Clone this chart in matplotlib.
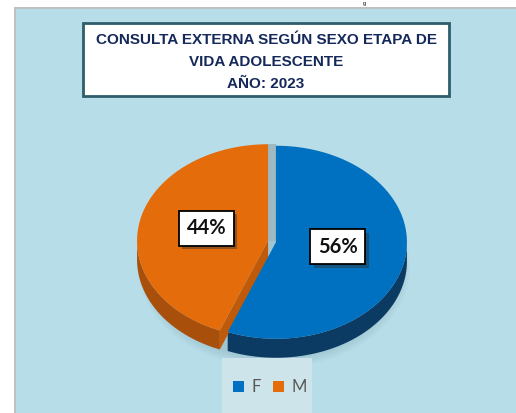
import numpy as np
import matplotlib.pyplot as plt
from matplotlib.patches import Polygon, Rectangle, Patch, Ellipse
import matplotlib.patheffects as pe

# data
labels = ["F", "M"]
values = [56, 44]
top_colors = ["#0070C0", "#E46C0A"]
wall_colors = ["#0B3A63", "#A84F0B"]
face_colors = ["#0A4A80", "#BF5A0A"]
title_lines = ["CONSULTA EXTERNA SEGÚN SEXO ETAPA DE", "VIDA ADOLESCENTE", "AÑO: 2023"]

W, H = 516, 413
fig = plt.figure(figsize=(W / 100, H / 100), dpi=100)
fig.patch.set_facecolor("white")
ax = fig.add_axes([0, 0, 1, 1])
ax.set_xlim(0, W)
ax.set_ylim(H, 0)
ax.axis("off")

# panel background with gray left/top border
ax.add_patch(Rectangle((14, 7), W, H, facecolor="#C0C0C0", edgecolor="none"))
ax.add_patch(Rectangle((16, 9), W, H, facecolor="#B7DDE8", edgecolor="none"))
ax.text(364, 0.5, "g", fontsize=4, color="black", ha="center", va="top",
        family="Liberation Sans")

# title box
ax.add_patch(Rectangle((83, 23), 366, 73, facecolor="white", edgecolor="#2E5D6B", linewidth=2))
for i, line in enumerate(title_lines):
    ax.text(266, 40.5 + i * 21.5, line, ha="center", va="center", fontsize=11,
            fontweight="bold", color="#14285A", family="Liberation Sans")

# 3d pie geometry (pixel space)
cx, cy = 272, 241.5
rx, ry = 131, 96.5
depth = 19
explode = 4

# soft shadow under pie
for k in range(6):
    ax.add_patch(Ellipse((cx + 2, cy + depth + 6), 2 * rx + 10 - 4 * k, 2 * ry + 10 - 4 * k,
                         facecolor="#5A7F8C", edgecolor="none", alpha=0.04))

# lighter legend area
ax.add_patch(Rectangle((222, 358), 90, 60, facecolor="#CDE4EA", edgecolor="none"))

fracs = np.array(values) / sum(values)
starts = 90 - 360 * np.cumsum(np.r_[0, fracs[:-1]])
ends = starts - 360 * fracs


def pt(t, ox, oy, dz=0):
    return ox + rx * np.cos(t), oy - ry * np.sin(t) + dz


slices = []
for i in range(len(values)):
    a0, a1 = np.radians(ends[i]), np.radians(starts[i])
    mid = (a0 + a1) / 2
    ox, oy = cx + explode * np.cos(mid), cy - explode * np.sin(mid)
    slices.append((a0, a1, mid, ox, oy))

# gap shadow between slices
ax.add_patch(Rectangle((cx - 4, cy - ry - 1), 8, ry, facecolor="#9DB9C2", edgecolor="none"))

# walls first
for i, (a0, a1, mid, ox, oy) in enumerate(slices):
    t = np.linspace(a0, a1, 400)
    vis = np.sin(t) <= 0
    if vis.any():
        tv = t[vis]
        xs, ys = pt(tv, ox, oy)
        xb, yb = pt(tv[::-1], ox, oy, depth)
        ax.add_patch(Polygon(np.c_[np.r_[xs, xb], np.r_[ys, yb]], closed=True,
                             facecolor=wall_colors[i], edgecolor="none"))
    for a, visible in ((a1, np.cos(a1) < 0), (a0, np.cos(a0) > 0)):
        if visible:
            ex, ey = pt(a, ox, oy)
            ax.add_patch(Polygon([(ox, oy), (ex, ey), (ex, ey + depth), (ox, oy + depth)],
                                 closed=True, facecolor=face_colors[i], edgecolor="none"))

# top faces
for i, (a0, a1, mid, ox, oy) in enumerate(slices):
    t = np.linspace(a0, a1, 400)
    xs, ys = pt(t, ox, oy)
    ax.add_patch(Polygon(np.c_[np.r_[ox, xs], np.r_[oy, ys]], closed=True,
                         facecolor=top_colors[i], edgecolor="none"))

# percentage labels
for i, (a0, a1, mid, ox, oy) in enumerate(slices):
    lx = cx + 0.51 * rx * np.cos(mid)
    ly = cy - 4 - 0.51 * ry * np.sin(mid)
    txt = ax.text(lx, ly, f"{values[i]}%", ha="center", va="center", fontsize=14.5,
                  fontweight="bold", color="#111111", family="Lato",
                  bbox=dict(boxstyle="square,pad=0.38", facecolor="white",
                            edgecolor="black", linewidth=1.3))
    txt.get_bbox_patch().set_path_effects([
        pe.SimplePatchShadow(offset=(2.5, -2.5), shadow_rgbFace="#333333", alpha=0.45),
        pe.Normal()])

# legend
handles = [Patch(facecolor=c, edgecolor="none", label=l) for c, l in zip(top_colors, labels)]
leg = ax.legend(handles=handles, loc="center", bbox_to_anchor=(270 / W, 1 - 387 / H),
                ncol=2, frameon=False, handlelength=0.66, handleheight=0.66,
                handletextpad=0.45, columnspacing=0.75,
                prop={"family": "Lato", "size": 12})
for t in leg.get_texts():
    t.set_color("#595959")

fig.savefig("out.png", dpi=100)
